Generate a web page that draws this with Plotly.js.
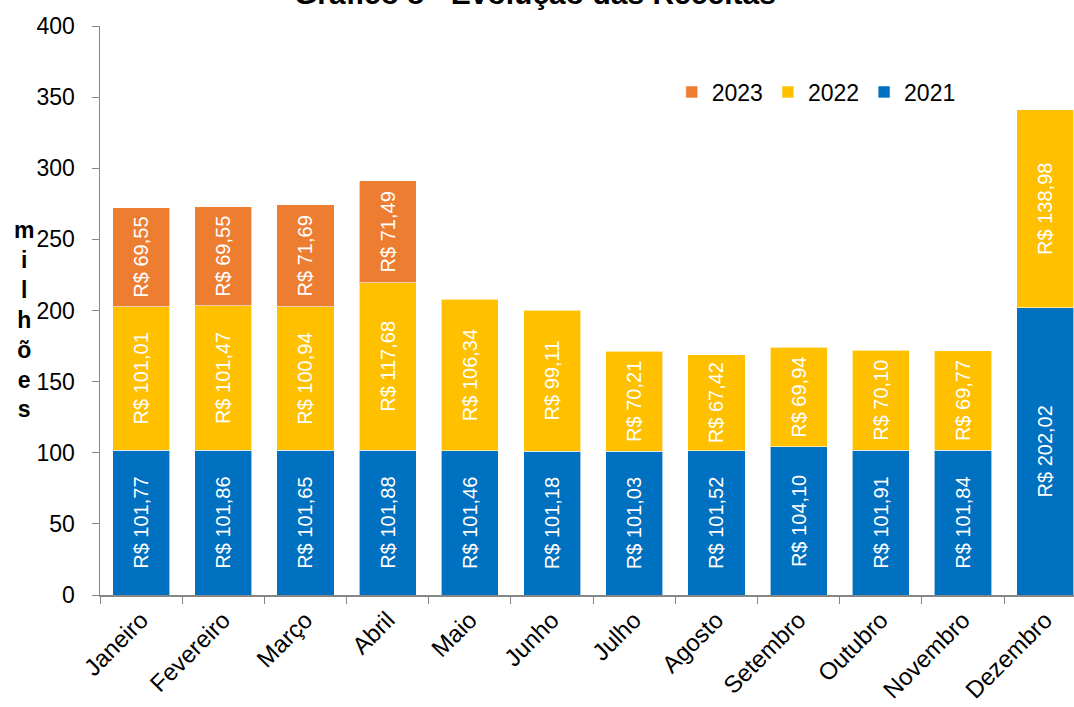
<!DOCTYPE html>
<html>
<head>
<meta charset="utf-8">
<script src="https://cdn.plot.ly/plotly-3.0.1.min.js"></script>
<style>
html,body{margin:0;padding:0;background:#fff;overflow:hidden;}
#chart{width:1074px;height:707px;}
</style>
</head>
<body>
<div id="chart"></div>
<script>
const months = ["Janeiro","Fevereiro","Março","Abril","Maio","Junho","Julho","Agosto","Setembro","Outubro","Novembro","Dezembro"];
const values2021 = [101.77,101.86,101.65,101.88,101.46,101.18,101.03,101.52,104.10,101.91,101.84,202.02];
const values2022 = [101.01,101.47,100.94,117.68,106.34,99.11,70.21,67.42,69.94,70.10,69.77,138.98];
const values2023 = [69.55,69.55,71.69,71.49,null,null,null,null,null,null,null,null];
const yTicks = [0,50,100,150,200,250,300,350,400];
const titleText = "Gráfico 8 - Evolução das Receitas";
const yTitleLetters = ["m","i","l","h","õ","e","s"];

const FONT = "Liberation Sans, Arial, sans-serif";
function fmt(v){ return v == null ? "" : "R$ " + v.toFixed(2).replace(".", ","); }

function mk(name, vals, color){
  return {
    type: "bar", name: name, x: months, y: vals,
    text: vals.map(fmt), textposition: "inside", insidetextanchor: "middle",
    textangle: -90, textfont: {family: FONT, size: 20, color: "#ffffff"},
    marker: {color: color, line: {color: "rgba(255,255,255,0.6)", width: 1}},
    hoverinfo: "skip"
  };
}

const data = [
  mk("2021", values2021, "#0070C0"),
  mk("2022", values2022, "#FFC000"),
  mk("2023", values2023, "#ED7D31")
];

const layout = {
  width: 1074, height: 707,
  margin: {l: 100, r: 0, t: 26, b: 112, pad: 0},
  paper_bgcolor: "#ffffff", plot_bgcolor: "#ffffff",
  barmode: "stack", bargap: 0.305,
  showlegend: true,
  uniformtext: {mode: "show", minsize: 20},
  font: {family: FONT, color: "#000000"},
  legend: {
    orientation: "h", traceorder: "reversed",
    x: 0.587, xanchor: "left", y: 0.884, yanchor: "middle",
    font: {family: FONT, size: 23, color: "#000000"},
    bgcolor: "rgba(0,0,0,0)", itemwidth: 30
  },
  xaxis: {
    type: "category", range: [-0.5, 11.35], fixedrange: true,
    tickangle: -45, tickson: "boundaries", ticks: "outside", ticklen: 7,
    tickcolor: "#868686", showline: true, linecolor: "#868686", linewidth: 1.5,
    tickfont: {family: FONT, size: 24, color: "#000000"},
    showgrid: false, zeroline: false
  },
  yaxis: {
    range: [0, 400], tickvals: yTicks, ticktext: yTicks.map(String),
    ticks: "outside", ticklen: 7, tickcolor: "#868686",
    showline: true, linecolor: "#868686", linewidth: 1.5,
    tickfont: {family: FONT, size: 23, color: "#000000"},
    ticklabelstandoff: 12,
    showgrid: false, zeroline: false, fixedrange: true
  },
  annotations: [
    {text: "<b>" + titleText + "</b>", xref: "paper", yref: "paper",
     x: 0.447, y: 1.0575, xanchor: "center", yanchor: "middle", showarrow: false,
     font: {family: FONT, size: 30, color: "#000000"}},
    {text: "<b>" + yTitleLetters.join("<br>") + "</b>", xref: "paper", yref: "paper",
     x: -0.078, y: 0.485, xanchor: "center", yanchor: "middle", showarrow: false,
     align: "center", font: {family: FONT, size: 23, color: "#000000"}}
  ]
};

Plotly.newPlot("chart", data, layout, {displayModeBar: false, staticPlot: true});
</script>
</body>
</html>
